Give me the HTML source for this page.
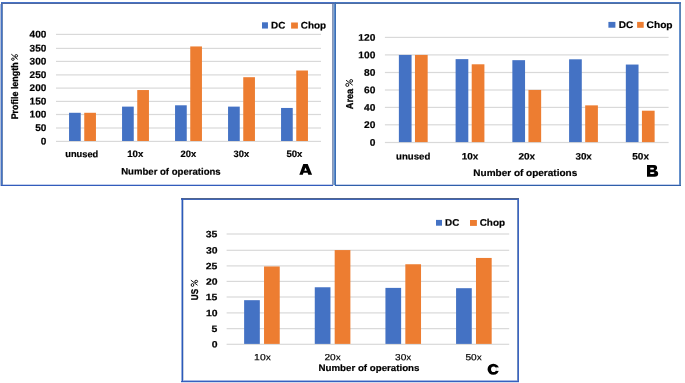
<!DOCTYPE html>
<html><head><meta charset="utf-8"><style>
html,body{margin:0;padding:0;background:#fff;overflow:hidden;}
svg{display:block;will-change:transform;}
text{font-family:"Liberation Sans", sans-serif;text-rendering:geometricPrecision;}
</style></head><body>
<svg width="685" height="383" viewBox="0 0 685 383">
<rect width="685" height="383" fill="#fff"/>
<rect x="1" y="184" width="333" height="1" fill="#C4D0EC"/>
<rect x="0" y="4" width="1" height="182" fill="#AFBEDC"/>
<rect x="333" y="2" width="1" height="184" fill="#8CA5C8"/>
<rect x="332" y="2" width="1" height="184" fill="#8796B9"/>
<rect x="2" y="2" width="1" height="184" fill="#6A87B4"/>
<rect x="1" y="2" width="333" height="1" fill="#4673C8"/>
<rect x="1" y="2" width="1" height="184" fill="#4472C4"/>
<rect x="1" y="3" width="333" height="1" fill="#5069A0"/>
<rect x="1" y="185" width="333" height="1" fill="#325CBC"/>
<rect x="56" y="140.8" width="265" height="1.2" fill="#D9D9D9"/>
<text transform="translate(40.72,144.4) rotate(0.1) scale(1.0361,1)" font-size="9.7" font-weight="bold" fill="#000" stroke="#000" stroke-width="0.2" stroke-linejoin="round">0</text>
<rect x="56" y="127.4" width="265" height="1.2" fill="#D9D9D9"/>
<text transform="translate(35.15,131) rotate(0.1) scale(1.0361,1)" font-size="9.7" font-weight="bold" fill="#000" stroke="#000" stroke-width="0.2" stroke-linejoin="round">50</text>
<rect x="56" y="113.9" width="265" height="1.2" fill="#D9D9D9"/>
<text transform="translate(29.57,117.5) rotate(0.1) scale(1.0361,1)" font-size="9.7" font-weight="bold" fill="#000" stroke="#000" stroke-width="0.2" stroke-linejoin="round">100</text>
<rect x="56" y="100.8" width="265" height="1.2" fill="#D9D9D9"/>
<text transform="translate(29.57,104.4) rotate(0.1) scale(1.0361,1)" font-size="9.7" font-weight="bold" fill="#000" stroke="#000" stroke-width="0.2" stroke-linejoin="round">150</text>
<rect x="56" y="87.5" width="265" height="1.2" fill="#D9D9D9"/>
<text transform="translate(29.57,91.1) rotate(0.1) scale(1.0361,1)" font-size="9.7" font-weight="bold" fill="#000" stroke="#000" stroke-width="0.2" stroke-linejoin="round">200</text>
<rect x="56" y="74.3" width="265" height="1.2" fill="#D9D9D9"/>
<text transform="translate(29.57,77.9) rotate(0.1) scale(1.0361,1)" font-size="9.7" font-weight="bold" fill="#000" stroke="#000" stroke-width="0.2" stroke-linejoin="round">250</text>
<rect x="56" y="60.8" width="265" height="1.2" fill="#D9D9D9"/>
<text transform="translate(29.57,64.4) rotate(0.1) scale(1.0361,1)" font-size="9.7" font-weight="bold" fill="#000" stroke="#000" stroke-width="0.2" stroke-linejoin="round">300</text>
<rect x="56" y="47.8" width="265" height="1.2" fill="#D9D9D9"/>
<text transform="translate(29.57,51.4) rotate(0.1) scale(1.0361,1)" font-size="9.7" font-weight="bold" fill="#000" stroke="#000" stroke-width="0.2" stroke-linejoin="round">350</text>
<rect x="56" y="33.8" width="265" height="1.2" fill="#D9D9D9"/>
<text transform="translate(29.57,37.4) rotate(0.1) scale(1.0361,1)" font-size="9.7" font-weight="bold" fill="#000" stroke="#000" stroke-width="0.2" stroke-linejoin="round">400</text>
<rect x="69.05" y="112.78" width="11.7" height="28.22" fill="#4472C4"/>
<rect x="84.25" y="112.78" width="11.7" height="28.22" fill="#ED7D31"/>
<text transform="translate(65.24,157.1) rotate(0.1) scale(0.9969,1)" font-size="9.3" font-weight="bold" fill="#000" stroke="#000" stroke-width="0.2" stroke-linejoin="round">unused</text>
<rect x="122.05" y="106.62" width="11.7" height="34.38" fill="#4472C4"/>
<rect x="137.25" y="90.04" width="11.7" height="50.96" fill="#ED7D31"/>
<text transform="translate(127.27,157.1) rotate(0.1) scale(1.0347,1)" font-size="9.3" font-weight="bold" fill="#000" stroke="#000" stroke-width="0.2" stroke-linejoin="round">10x</text>
<rect x="175.05" y="105.29" width="11.7" height="35.71" fill="#4472C4"/>
<rect x="190.25" y="46.44" width="11.7" height="94.56" fill="#ED7D31"/>
<text transform="translate(180.57,157.1) rotate(0.1) scale(1.0089,1)" font-size="9.3" font-weight="bold" fill="#000" stroke="#000" stroke-width="0.2" stroke-linejoin="round">20x</text>
<rect x="228.05" y="106.62" width="11.7" height="34.38" fill="#4472C4"/>
<rect x="243.25" y="77.2" width="11.7" height="63.8" fill="#ED7D31"/>
<text transform="translate(233.57,157.1) rotate(0.1) scale(1.0027,1)" font-size="9.3" font-weight="bold" fill="#000" stroke="#000" stroke-width="0.2" stroke-linejoin="round">30x</text>
<rect x="281.05" y="107.96" width="11.7" height="33.04" fill="#4472C4"/>
<rect x="296.25" y="70.51" width="11.7" height="70.49" fill="#ED7D31"/>
<text transform="translate(286.51,157.1) rotate(0.1) scale(1.0256,1)" font-size="9.3" font-weight="bold" fill="#000" stroke="#000" stroke-width="0.2" stroke-linejoin="round">50x</text>
<text transform="translate(121.18,174.6) rotate(0.1) scale(1.0145,1)" font-size="9.45" font-weight="bold" fill="#000" stroke="#000" stroke-width="0.2" stroke-linejoin="round">Number of operations</text>
<text transform="translate(18.15,119.33) rotate(-90) scale(0.9294,1)" font-size="9.6" font-weight="bold" stroke="#000" stroke-width="0.3">Profile length</text>
<g fill="none" stroke="#000" stroke-width="0.9"><line x1="11.3" y1="54.2" x2="17.7" y2="59.4" stroke-width="0.9"/><ellipse cx="16.3" cy="55.8" rx="1.3" ry="1.25"/><ellipse cx="12.9" cy="59.2" rx="1.35" ry="1.15"/></g>
<rect x="262" y="22.3" width="5.95" height="6.25" fill="#4472C4"/>
<rect x="291.1" y="22.5" width="6.8" height="6.1" fill="#ED7D31"/>
<text transform="translate(271.06,28.45) rotate(0.1) scale(1.0370,1)" font-size="9.5" font-weight="bold" fill="#000" stroke="#000" stroke-width="0.2" stroke-linejoin="round">DC</text>
<text transform="translate(300.81,28.45) rotate(0.1) scale(1.0377,1)" font-size="9.5" font-weight="bold" fill="#000" stroke="#000" stroke-width="0.2" stroke-linejoin="round">Chop</text>
<path fill="#000" fill-rule="evenodd" d="M299.3 174.7L303.3 164L307.7 164L312.1 174.7L308.3 174.7L307.6 172.8L303.5 172.8L302.8 174.7Z M304.3 170.8L305.55 167.4L306.8 170.8Z"/>
<rect x="334" y="184" width="347" height="1" fill="#C4D0EC"/>
<rect x="679" y="2" width="1" height="184" fill="#6490CC"/>
<rect x="334" y="2" width="1" height="184" fill="#5A8CCD"/>
<rect x="680" y="2" width="1" height="184" fill="#5A82B4"/>
<rect x="334" y="2" width="347" height="1" fill="#4A78C3"/>
<rect x="334" y="3" width="347" height="1" fill="#4F6EA0"/>
<rect x="335" y="2" width="1" height="184" fill="#3C6EB4"/>
<rect x="334" y="185" width="347" height="1" fill="#2F5FAA"/>
<rect x="384.9" y="141.9" width="283.7" height="1.2" fill="#D9D9D9"/>
<text transform="translate(369.65,145.8) rotate(0.1) scale(1.0625,1)" font-size="9.6" font-weight="bold" fill="#000" stroke="#000" stroke-width="0.2" stroke-linejoin="round">0</text>
<rect x="384.9" y="124.2" width="283.7" height="1.2" fill="#D9D9D9"/>
<text transform="translate(363.99,128.1) rotate(0.1) scale(1.0625,1)" font-size="9.6" font-weight="bold" fill="#000" stroke="#000" stroke-width="0.2" stroke-linejoin="round">20</text>
<rect x="384.9" y="106.8" width="283.7" height="1.2" fill="#D9D9D9"/>
<text transform="translate(363.99,110.7) rotate(0.1) scale(1.0625,1)" font-size="9.6" font-weight="bold" fill="#000" stroke="#000" stroke-width="0.2" stroke-linejoin="round">40</text>
<rect x="384.9" y="89.4" width="283.7" height="1.2" fill="#D9D9D9"/>
<text transform="translate(363.99,93.3) rotate(0.1) scale(1.0625,1)" font-size="9.6" font-weight="bold" fill="#000" stroke="#000" stroke-width="0.2" stroke-linejoin="round">60</text>
<rect x="384.9" y="71.9" width="283.7" height="1.2" fill="#D9D9D9"/>
<text transform="translate(363.99,75.8) rotate(0.1) scale(1.0625,1)" font-size="9.6" font-weight="bold" fill="#000" stroke="#000" stroke-width="0.2" stroke-linejoin="round">80</text>
<rect x="384.9" y="54.3" width="283.7" height="1.2" fill="#D9D9D9"/>
<text transform="translate(358.32,58.2) rotate(0.1) scale(1.0625,1)" font-size="9.6" font-weight="bold" fill="#000" stroke="#000" stroke-width="0.2" stroke-linejoin="round">100</text>
<rect x="384.9" y="36.8" width="283.7" height="1.2" fill="#D9D9D9"/>
<text transform="translate(358.32,40.7) rotate(0.1) scale(1.0625,1)" font-size="9.6" font-weight="bold" fill="#000" stroke="#000" stroke-width="0.2" stroke-linejoin="round">120</text>
<rect x="398.87" y="54.92" width="12.7" height="87.18" fill="#4472C4"/>
<rect x="414.97" y="54.92" width="12.7" height="87.18" fill="#ED7D31"/>
<text transform="translate(396.12,159.4) rotate(0.1) scale(1.0345,1)" font-size="9.3" font-weight="bold" fill="#000" stroke="#000" stroke-width="0.2" stroke-linejoin="round">unused</text>
<rect x="455.61" y="59.12" width="12.7" height="82.98" fill="#4472C4"/>
<rect x="471.71" y="64.29" width="12.7" height="77.81" fill="#ED7D31"/>
<text transform="translate(461.65,159.4) rotate(0.1) scale(1.0685,1)" font-size="9.3" font-weight="bold" fill="#000" stroke="#000" stroke-width="0.2" stroke-linejoin="round">10x</text>
<rect x="512.35" y="60.17" width="12.7" height="81.93" fill="#4472C4"/>
<rect x="528.45" y="89.95" width="12.7" height="52.15" fill="#ED7D31"/>
<text transform="translate(518.55,159.4) rotate(0.1) scale(1.0686,1)" font-size="9.3" font-weight="bold" fill="#000" stroke="#000" stroke-width="0.2" stroke-linejoin="round">20x</text>
<rect x="569.09" y="59.3" width="12.7" height="82.8" fill="#4472C4"/>
<rect x="585.19" y="105.36" width="12.7" height="36.74" fill="#ED7D31"/>
<text transform="translate(575.45,159.4) rotate(0.1) scale(1.0555,1)" font-size="9.3" font-weight="bold" fill="#000" stroke="#000" stroke-width="0.2" stroke-linejoin="round">30x</text>
<rect x="625.83" y="64.55" width="12.7" height="77.55" fill="#4472C4"/>
<rect x="641.93" y="110.71" width="12.7" height="31.39" fill="#ED7D31"/>
<text transform="translate(632.3,159.4) rotate(0.1) scale(1.0720,1)" font-size="9.3" font-weight="bold" fill="#000" stroke="#000" stroke-width="0.2" stroke-linejoin="round">50x</text>
<text transform="translate(473.35,175.9) rotate(0.1) scale(1.0521,1)" font-size="9.5" font-weight="bold" fill="#000" stroke="#000" stroke-width="0.2" stroke-linejoin="round">Number of operations</text>
<text transform="translate(353.05,109.23) rotate(-90) scale(0.9186,1)" font-size="10" font-weight="bold" stroke="#000" stroke-width="0.3">Area</text>
<g fill="none" stroke="#000" stroke-width="0.9"><line x1="346.0" y1="80.2" x2="352.75" y2="85.2" stroke-width="0.9"/><ellipse cx="351.2" cy="80.9" rx="1.45" ry="1.35"/><ellipse cx="347.3" cy="84.9" rx="1.5" ry="1.55"/></g>
<rect x="608.4" y="21.9" width="7" height="5.8" fill="#4472C4"/>
<rect x="637.1" y="21.9" width="6.6" height="5.9" fill="#ED7D31"/>
<text transform="translate(618.65,28.1) rotate(0.1) scale(1.0386,1)" font-size="9.7" font-weight="bold" fill="#000" stroke="#000" stroke-width="0.2" stroke-linejoin="round">DC</text>
<text transform="translate(646.59,28.1) rotate(0.1) scale(1.0497,1)" font-size="9.7" font-weight="bold" fill="#000" stroke="#000" stroke-width="0.2" stroke-linejoin="round">Chop</text>
<path fill="#000" fill-rule="evenodd" d="M647 165.1L654 165.1C656.2 165.1 657.1 166.3 657.1 167.8C657.1 169.2 656.3 170.1 655.3 170.5C657 170.9 658.2 172 658.2 173.7C658.2 175.6 656.9 176.7 654.6 176.7L647 176.7Z M650.3 167.8L652.9 167.8C653.6 167.8 653.9 168.3 653.9 168.7C653.9 169.1 653.6 169.5 652.9 169.5L650.3 169.5Z M650.3 172.2L653.3 172.2C654 172.2 654.4 172.6 654.4 173.1C654.4 173.6 654 174 653.3 174L650.3 174Z"/>
<rect x="181" y="382" width="338" height="1" fill="#D4DBEA"/>
<rect x="183" y="200" width="1" height="182" fill="#C8D2E1"/>
<rect x="181" y="380" width="338" height="1" fill="#A4B8E4"/>
<rect x="181" y="200" width="1" height="182" fill="#96AFE1"/>
<rect x="517" y="198" width="1" height="184" fill="#6E8CBE"/>
<rect x="181" y="199" width="338" height="1" fill="#4066B9"/>
<rect x="518" y="198" width="1" height="184" fill="#3C64C3"/>
<rect x="181" y="198" width="338" height="1" fill="#50648C"/>
<rect x="181" y="381" width="338" height="1" fill="#3560C0"/>
<rect x="182" y="198" width="1" height="184" fill="#2D5AB9"/>
<rect x="226.6" y="343.7" width="282.6" height="1.2" fill="#D9D9D9"/>
<text transform="translate(211.74,347.55) rotate(0.1) scale(1.1243,1)" font-size="9.25" font-weight="bold" fill="#000" stroke="#000" stroke-width="0.2" stroke-linejoin="round">0</text>
<rect x="226.6" y="328.05" width="282.6" height="1.2" fill="#D9D9D9"/>
<text transform="translate(211.59,331.9) rotate(0.1) scale(1.1243,1)" font-size="9.25" font-weight="bold" fill="#000" stroke="#000" stroke-width="0.2" stroke-linejoin="round">5</text>
<rect x="226.6" y="312.3" width="282.6" height="1.2" fill="#D9D9D9"/>
<text transform="translate(205.97,316.15) rotate(0.1) scale(1.1243,1)" font-size="9.25" font-weight="bold" fill="#000" stroke="#000" stroke-width="0.2" stroke-linejoin="round">10</text>
<rect x="226.6" y="296.4" width="282.6" height="1.2" fill="#D9D9D9"/>
<text transform="translate(205.82,300.25) rotate(0.1) scale(1.1243,1)" font-size="9.25" font-weight="bold" fill="#000" stroke="#000" stroke-width="0.2" stroke-linejoin="round">15</text>
<rect x="226.6" y="280.8" width="282.6" height="1.2" fill="#D9D9D9"/>
<text transform="translate(205.97,284.65) rotate(0.1) scale(1.1243,1)" font-size="9.25" font-weight="bold" fill="#000" stroke="#000" stroke-width="0.2" stroke-linejoin="round">20</text>
<rect x="226.6" y="265.3" width="282.6" height="1.2" fill="#D9D9D9"/>
<text transform="translate(205.82,269.15) rotate(0.1) scale(1.1243,1)" font-size="9.25" font-weight="bold" fill="#000" stroke="#000" stroke-width="0.2" stroke-linejoin="round">25</text>
<rect x="226.6" y="249.7" width="282.6" height="1.2" fill="#D9D9D9"/>
<text transform="translate(205.97,253.55) rotate(0.1) scale(1.1243,1)" font-size="9.25" font-weight="bold" fill="#000" stroke="#000" stroke-width="0.2" stroke-linejoin="round">30</text>
<rect x="226.6" y="233.4" width="282.6" height="1.2" fill="#D9D9D9"/>
<text transform="translate(205.82,237.25) rotate(0.1) scale(1.1243,1)" font-size="9.25" font-weight="bold" fill="#000" stroke="#000" stroke-width="0.2" stroke-linejoin="round">35</text>
<rect x="244.12" y="300.18" width="15.7" height="43.72" fill="#4472C4"/>
<rect x="264.03" y="266.46" width="15.7" height="77.44" fill="#ED7D31"/>
<text transform="translate(254.12,360.3) rotate(0.1) scale(1.1512,1)" font-size="9" font-weight="normal" fill="#000" stroke="#000" stroke-width="0.18" stroke-linejoin="round">10x</text>
<rect x="314.77" y="287.26" width="15.7" height="56.64" fill="#4472C4"/>
<rect x="334.68" y="250.07" width="15.7" height="93.83" fill="#ED7D31"/>
<text transform="translate(324.49,360.3) rotate(0.1) scale(1.1254,1)" font-size="9" font-weight="normal" fill="#000" stroke="#000" stroke-width="0.18" stroke-linejoin="round">20x</text>
<rect x="385.43" y="287.89" width="15.7" height="56.01" fill="#4472C4"/>
<rect x="405.33" y="264.25" width="15.7" height="79.65" fill="#ED7D31"/>
<text transform="translate(395.1,360.3) rotate(0.1) scale(1.1182,1)" font-size="9" font-weight="normal" fill="#000" stroke="#000" stroke-width="0.18" stroke-linejoin="round">30x</text>
<rect x="456.07" y="288.2" width="15.7" height="55.7" fill="#4472C4"/>
<rect x="475.98" y="257.95" width="15.7" height="85.95" fill="#ED7D31"/>
<text transform="translate(465.49,360.3) rotate(0.1) scale(1.1254,1)" font-size="9" font-weight="normal" fill="#000" stroke="#000" stroke-width="0.18" stroke-linejoin="round">50x</text>
<text transform="translate(318.47,370.9) rotate(0.1) scale(1.0455,1)" font-size="9.3" font-weight="bold" fill="#000" stroke="#000" stroke-width="0.2" stroke-linejoin="round">Number of operations</text>
<text transform="translate(197.6,300.18) rotate(-90) scale(0.8252,1)" font-size="9.77" font-weight="bold" stroke="#000" stroke-width="0.3">US</text>
<g fill="none" stroke="#000" stroke-width="0.9"><line x1="190.9" y1="280.2" x2="197.6" y2="285.3" stroke-width="0.9"/><ellipse cx="196.2" cy="281.4" rx="1.45" ry="1.15"/><ellipse cx="192.5" cy="285.0" rx="1.3" ry="1.45"/></g>
<rect x="436" y="219.9" width="6" height="5.8" fill="#4472C4"/>
<rect x="470" y="220" width="6.9" height="5.9" fill="#ED7D31"/>
<text transform="translate(445.06,225.8) rotate(0.1) scale(1.0370,1)" font-size="9.5" font-weight="bold" fill="#000" stroke="#000" stroke-width="0.2" stroke-linejoin="round">DC</text>
<text transform="translate(479.7,225.8) rotate(0.1) scale(1.0420,1)" font-size="9.5" font-weight="bold" fill="#000" stroke="#000" stroke-width="0.2" stroke-linejoin="round">Chop</text>
<path fill="#000" fill-rule="evenodd" d="M487.55 369.25a5.75 5.6 0 1 0 11.5 0a5.75 5.6 0 1 0 -11.5 0Z M491.05 369.2a2.55 2.8 0 1 0 5.1 0a2.55 2.8 0 1 0 -5.1 0Z"/><rect x="496.1" y="367.4" width="4.4" height="3.5" fill="#fff"/>
<rect x="333" y="185" width="2" height="1" fill="#E4EAF5"/>
</svg>
</body></html>
